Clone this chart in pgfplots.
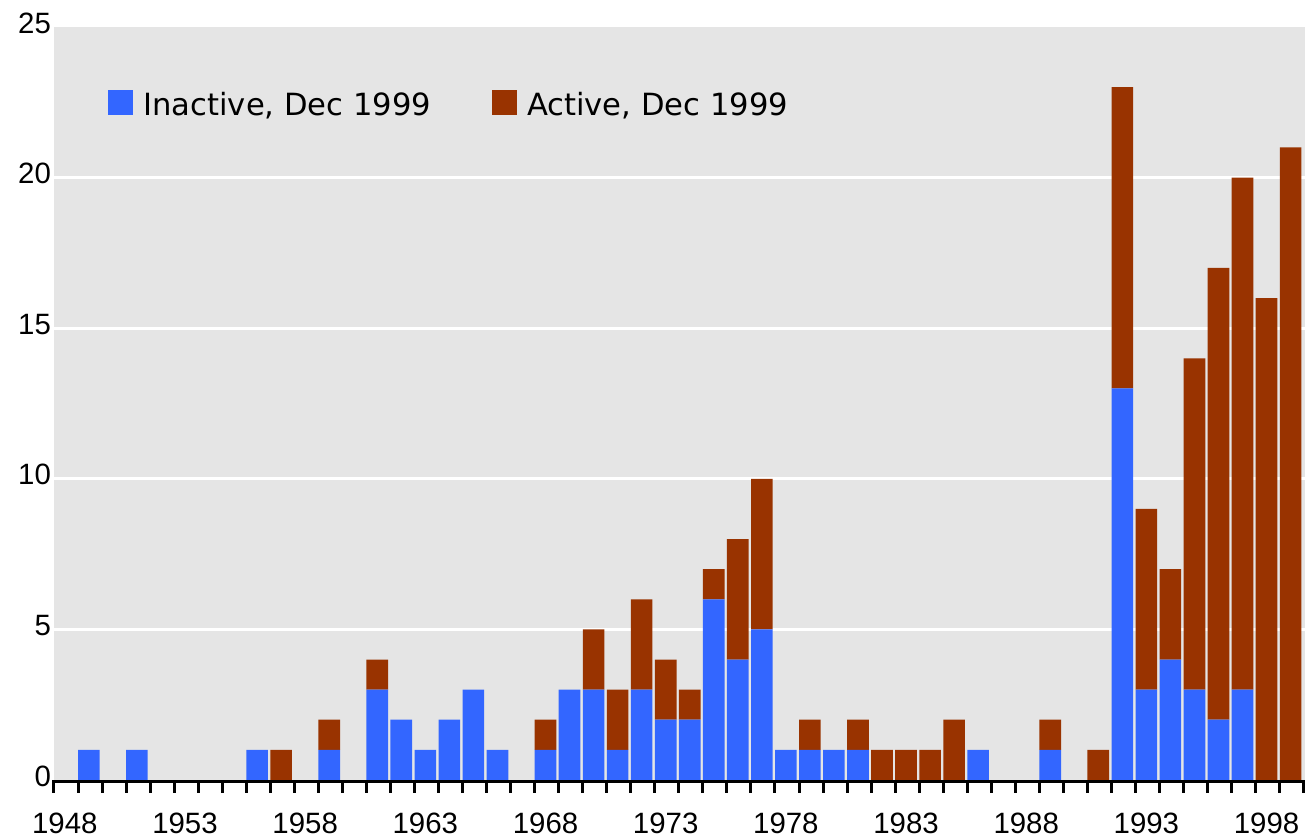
\documentclass[border=0pt]{standalone}
\usepackage{fontspec}
\setmainfont{Liberation Sans}
\newfontfamily\legfont{DejaVu Sans}
\usepackage{pgfplots}
\usepackage{pgfplotstable}
\pgfplotsset{compat=1.18}
\definecolor{inact}{HTML}{3366FF}
\definecolor{act}{HTML}{993300}
\definecolor{bg}{HTML}{E5E5E5}
\pgfplotsset{sqlegend/.style={legend image code/.code={%
    \fill[##1] (0pt,-5pt) rectangle (12.5pt,7.5pt);}}}

% counts per year: inactive / active as of Dec 1999
\pgfplotstableread{
year inactive active
1948 0 0
1949 1 0
1950 0 0
1951 1 0
1952 0 0
1953 0 0
1954 0 0
1955 0 0
1956 1 0
1957 0 1
1958 0 0
1959 1 1
1960 0 0
1961 3 1
1962 2 0
1963 1 0
1964 2 0
1965 3 0
1966 1 0
1967 0 0
1968 1 1
1969 3 0
1970 3 2
1971 1 2
1972 3 3
1973 2 2
1974 2 1
1975 6 1
1976 4 4
1977 5 5
1978 1 0
1979 1 1
1980 1 0
1981 1 1
1982 0 1
1983 0 1
1984 0 1
1985 0 2
1986 1 0
1987 0 0
1988 0 0
1989 1 1
1990 0 0
1991 0 1
1992 13 10
1993 3 6
1994 4 3
1995 3 11
1996 2 15
1997 3 17
1998 0 16
1999 0 21
}\counts

\begin{document}
\begin{tikzpicture}
\begin{axis}[
    scale only axis,
    width=625.5pt, height=376.5pt,
    ybar stacked, bar width=0.9,
    xmin=1947.55, xmax=1999.6,
    ymin=0, ymax=25,
    axis background/.style={fill=bg},
    axis x line*=bottom, axis y line*=left,
    x axis line style={line width=1.5pt, black, yshift=-0.75pt},
    y axis line style={draw=none},
    tick align=outside,
    xtick={1948,1953,...,1998},
    xticklabels={1948,1953,1958,1963,1968,1973,1978,1983,1988,1993,1998},
    minor xtick={1947.55,1948.55,...,1999.6},
    major tick length=0pt,
    minor tick length=6.5pt,
    minor tick style={line width=1.5pt, black},
    ytick={0,5,...,25},
    yticklabels={0,5,10,15,20,25},
    ytick style={draw=none},
    extra y ticks={5,10,15,20},
    extra y tick labels={},
    extra y tick style={grid=major},
    major grid style={white, line width=1.5pt},
    ticklabel style={font=\fontsize{14.7}{17}\selectfont},
    xticklabel style={yshift=-13pt},
    yticklabel style={xshift=2pt, yshift=2pt},
    legend columns=2,
    legend style={draw=none, fill=none, inner sep=0pt,
        at={(axis description cs:0.0432,0.897)}, anchor=west,
        font=\legfont\fontsize{15.3}{18}\selectfont,
        nodes={inner sep=0pt},
        /tikz/every even column/.append style={column sep=30.5pt},
        /tikz/every odd column/.append style={column sep=5pt}},
]
\addplot[fill=inact, draw=none, sqlegend]
    table[x=year, y=inactive] {\counts};
\addlegendentry{Inactive, Dec 1999}
\addplot[fill=act, draw=none, sqlegend]
    table[x=year, y=active] {\counts};
\addlegendentry{Active, Dec 1999}
\end{axis}
\pgfresetboundingbox
\path ([xshift=-27pt,yshift=-29.5pt]current axis.south west)
    rectangle ([xshift=5pt,yshift=13.5pt]current axis.north east);
\end{tikzpicture}
\end{document}
